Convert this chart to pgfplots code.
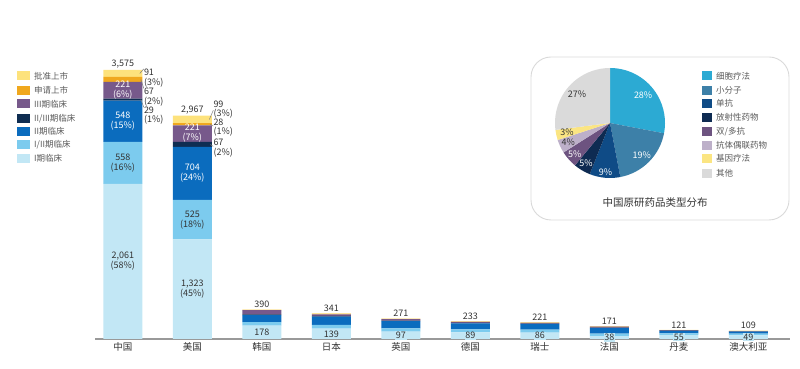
\documentclass[border=0pt]{standalone}
\usepackage{fontspec}
\setmainfont{Noto Sans CJK SC}
\usepackage{pgfplots}
\usepackage{pgfplotstable}
\pgfplotsset{compat=1.18}
\definecolor{cA}{HTML}{C2E7F5}
\definecolor{cAB}{HTML}{7CCBEE}
\definecolor{cB}{HTML}{0B6CBE}
\definecolor{cBC}{HTML}{0F2D52}
\definecolor{cC}{HTML}{77598B}
\definecolor{cSub}{HTML}{F0A81E}
\definecolor{cApp}{HTML}{FDE27C}
\definecolor{txt}{HTML}{333333}
\definecolor{lgtxt}{HTML}{595959}
\definecolor{p1}{HTML}{2CAAD3}
\definecolor{p2}{HTML}{3D80A8}
\definecolor{p3}{HTML}{0F4B86}
\definecolor{p4}{HTML}{0E2B52}
\definecolor{p5}{HTML}{6D5380}
\definecolor{p6}{HTML}{BDB0C9}
\definecolor{p7}{HTML}{FBE582}
\definecolor{p8}{HTML}{DADADA}
\pgfplotstableread{
x pA pAB pB pBC pC sub app
0 2061 558 548 29 221 67 91
1 1323 525 704 67 221 28 99
2 178 45 95 10 55 4 3
3 139 50 110 8 20 8 6
4 97 45 95 8 18 4 4
5 89 40 80 6 12 3 3
6 86 38 75 6 10 3 3
7 38 35 70 8 14 3 3
8 55 20 33 4 5 2 2
9 49 22 26 4 4 2 2
}\datatable
\tikzset{
  tot/.style={font=\fontsize{9}{10}\selectfont, text=txt, anchor=south, inner sep=1.5pt},
  inl/.style={font=\fontsize{9}{10}\selectfont, align=center, inner sep=0pt},
  sml/.style={font=\fontsize{9}{10}\selectfont, text=txt, fill=cA, inner sep=0.8pt},
  sid/.style={font=\fontsize{9}{9.5}\selectfont, text=txt, align=left, anchor=west, inner sep=0pt},
  pl/.style={font=\fontsize{9}{10}\selectfont, inner sep=0pt},
  lg/.style={font=\fontsize{8.5}{10}\selectfont, text=lgtxt, anchor=west, inner sep=0pt},
}
\pgfplotsset{baraxis/.style={
  at={(95pt,30pt)}, anchor=south west, scale only axis,
  width=695pt, height=269pt,
  xmin=-0.4, xmax=9.6, ymin=0, ymax=3575,
  clip=false}}
\begin{document}
\begin{tikzpicture}
\path[use as bounding box] (0,0) rectangle (800pt,369pt);
\begin{axis}[
  baraxis,
  ybar stacked, bar width=39pt,
  axis x line=bottom, hide y axis,
  axis line style={-, draw=gray!80, line width=1.1pt},
  xtick={0,1,2,3,4,5,6,7,8,9}, major tick length=0pt,
  xticklabels={中国,美国,韩国,日本,英国,德国,瑞士,法国,丹麦,澳大利亚},
  xticklabel style={font=\fontsize{9.5}{10}\selectfont, text=txt},
]
\addplot[fill=cA, draw=none] table[x=x,y=pA]{\datatable};
\addplot[fill=cAB, draw=none] table[x=x,y=pAB]{\datatable};
\addplot[fill=cB, draw=none] table[x=x,y=pB]{\datatable};
\addplot[fill=cBC, draw=none] table[x=x,y=pBC]{\datatable};
\addplot[fill=cC, draw=none] table[x=x,y=pC]{\datatable};
\addplot[fill=cSub, draw=none] table[x=x,y=sub]{\datatable};
\addplot[fill=cApp, draw=none] table[x=x,y=app]{\datatable};
\end{axis}
% overlay axis with the same geometry for the labels
\begin{axis}[baraxis, hide axis]
\addplot[draw=none, forget plot] coordinates {(0,0) (9,3575)};
\node[tot] at (axis cs:0,3575) {3,575};
\node[tot] at (axis cs:1,2967) {2,967};
\node[tot] at (axis cs:2,390) {390};
\node[tot] at (axis cs:3,341) {341};
\node[tot] at (axis cs:4,271) {271};
\node[tot] at (axis cs:5,233) {233};
\node[tot] at (axis cs:6,221) {221};
\node[tot] at (axis cs:7,171) {171};
\node[tot] at (axis cs:8,121) {121};
\node[tot] at (axis cs:9,109) {109};
\node[inl, text=txt] at (axis cs:0,1030) {2,061\\(58\%)};
\node[inl, text=txt] at (axis cs:0,2340) {558\\(16\%)};
\node[inl, text=white] at (axis cs:0,2893) {548\\(15\%)};
\node[inl, text=white] at (axis cs:0,3310) {221\\(6\%)};
\node[inl, text=txt] at (axis cs:1,661) {1,323\\(45\%)};
\node[inl, text=txt] at (axis cs:1,1585) {525\\(18\%)};
\node[inl, text=white] at (axis cs:1,2200) {704\\(24\%)};
\node[inl, text=white] at (axis cs:1,2730) {221\\(7\%)};
\node[sml] at (axis cs:2,85) {178};
\node[sml] at (axis cs:3,66) {139};
\node[sml] at (axis cs:4,48) {97};
\node[sml] at (axis cs:5,44) {89};
\node[sml] at (axis cs:6,43) {86};
\node[sml] at (axis cs:7,19) {38};
\node[sml] at (axis cs:8,27) {55};
\node[sml] at (axis cs:9,24) {49};
\node[sid, xshift=21pt] at (axis cs:0,3469) {91\\(3\%)};
\node[sid, xshift=21pt] at (axis cs:0,3216) {67\\(2\%)};
\node[sid, xshift=21pt] at (axis cs:0,2970) {29\\(1\%)};
\node[sid, xshift=21pt] at (axis cs:1,3050) {99\\(3\%)};
\node[sid, xshift=21pt] at (axis cs:1,2810) {28\\(1\%)};
\node[sid, xshift=21pt] at (axis cs:1,2540) {67\\(2\%)};
\draw[gray, line width=0.5pt] ([xshift=17pt]axis cs:0,3530) -- ([xshift=21pt]axis cs:0,3590);
\draw[gray, line width=0.5pt] ([xshift=18pt]axis cs:0,3450) -- ([xshift=21pt]axis cs:0,3330);
\draw[gray, line width=0.5pt] ([xshift=18pt]axis cs:0,3182) -- ([xshift=21pt]axis cs:0,3080);
\draw[gray, line width=0.5pt] ([xshift=17pt]axis cs:1,2917) -- ([xshift=21pt]axis cs:1,3040);
\draw[gray, line width=0.5pt] ([xshift=18pt]axis cs:1,2854) -- ([xshift=21pt]axis cs:1,2830);
\draw[gray, line width=0.5pt] ([xshift=18pt]axis cs:1,2585) -- ([xshift=21pt]axis cs:1,2560);
\end{axis}
\begin{axis}[
  at={(0pt,0pt)}, anchor=south west, scale only axis, hide axis,
  width=800pt, height=369pt,
  xmin=0, xmax=800, ymin=0, ymax=369, clip=false,
]
\addplot[draw=none, forget plot] coordinates {(0,0) (800,369)};
\draw[gray!30, line width=0.9pt, rounded corners=20pt] (axis cs:531,149) rectangle (axis cs:789,312);
\fill[p1] (axis cs:610,246) -- ++(90:55pt) arc[start angle=90, delta angle=-100.8, radius=55pt] -- cycle;
\fill[p2] (axis cs:610,246) -- ++(-10.8:55pt) arc[start angle=-10.8, delta angle=-68.4, radius=55pt] -- cycle;
\fill[p3] (axis cs:610,246) -- ++(-79.2:55pt) arc[start angle=-79.2, delta angle=-32.4, radius=55pt] -- cycle;
\fill[p4] (axis cs:610,246) -- ++(-111.6:55pt) arc[start angle=-111.6, delta angle=-18, radius=55pt] -- cycle;
\fill[p5] (axis cs:610,246) -- ++(-129.6:55pt) arc[start angle=-129.6, delta angle=-18, radius=55pt] -- cycle;
\fill[p6] (axis cs:610,246) -- ++(-147.6:55pt) arc[start angle=-147.6, delta angle=-14.4, radius=55pt] -- cycle;
\fill[p7] (axis cs:610,246) -- ++(-162:55pt) arc[start angle=-162, delta angle=-10.8, radius=55pt] -- cycle;
\fill[p8] (axis cs:610,246) -- ++(-172.8:55pt) arc[start angle=-172.8, delta angle=-97.2, radius=55pt] -- cycle;
\node[pl, text=white] at ([shift={(39.6:43pt)}]axis cs:610,246) {28\%};
\node[pl, text=white] at ([shift={(-45:45pt)}]axis cs:610,246) {19\%};
\node[pl, text=white] at ([shift={(-95.4:49pt)}]axis cs:610,246) {9\%};
\node[pl, text=white] at ([shift={(-120.6:47pt)}]axis cs:610,246) {5\%};
\node[pl, text=white] at ([shift={(-138.6:47pt)}]axis cs:610,246) {5\%};
\node[pl, text=txt] at ([shift={(-154.8:46pt)}]axis cs:610,246) {4\%};
\node[pl, text=txt] at ([shift={(-167.4:44pt)}]axis cs:610,246) {3\%};
\node[pl, text=txt] at ([shift={(-221.4:44pt)}]axis cs:610,246) {27\%};
\node[font=\fontsize{10.5}{12}\selectfont, text=txt] at (axis cs:655,166) {中国原研药品类型分布};
\fill[p1] (axis cs:702,288.5) rectangle (axis cs:712,297.5);
\node[lg] at (axis cs:716,293) {细胞疗法};
\fill[p2] (axis cs:702,273.8) rectangle (axis cs:712,282.8);
\node[lg] at (axis cs:716,278.3) {小分子};
\fill[p3] (axis cs:702,261.2) rectangle (axis cs:712,270.2);
\node[lg] at (axis cs:716,265.7) {单抗};
\fill[p4] (axis cs:702,247.2) rectangle (axis cs:712,256.2);
\node[lg] at (axis cs:716,251.7) {放射性药物};
\fill[p5] (axis cs:702,233.2) rectangle (axis cs:712,242.2);
\node[lg] at (axis cs:716,237.7) {双/多抗};
\fill[p6] (axis cs:702,219.2) rectangle (axis cs:712,228.2);
\node[lg] at (axis cs:716,223.7) {抗体偶联药物};
\fill[p7] (axis cs:702,205.8) rectangle (axis cs:712,214.8);
\node[lg] at (axis cs:716,210.3) {基因疗法};
\fill[p8] (axis cs:702,191.2) rectangle (axis cs:712,200.2);
\node[lg] at (axis cs:716,195.7) {其他};
\fill[cApp] (axis cs:17,288.5) rectangle (axis cs:30,297.5);
\node[lg] at (axis cs:34,293) {批准上市};
\fill[cSub] (axis cs:17,273.8) rectangle (axis cs:30,282.8);
\node[lg] at (axis cs:34,278.3) {申请上市};
\fill[cC] (axis cs:17,260.5) rectangle (axis cs:30,269.5);
\node[lg] at (axis cs:34,265) {III期临床};
\fill[cBC] (axis cs:17,246.2) rectangle (axis cs:30,255.2);
\node[lg] at (axis cs:34,250.7) {II/III期临床};
\fill[cB] (axis cs:17,232.8) rectangle (axis cs:30,241.8);
\node[lg] at (axis cs:34,237.3) {II期临床};
\fill[cAB] (axis cs:17,219.8) rectangle (axis cs:30,228.8);
\node[lg] at (axis cs:34,224.3) {I/II期临床};
\fill[cA] (axis cs:17,206.2) rectangle (axis cs:30,215.2);
\node[lg] at (axis cs:34,210.7) {I期临床};
\end{axis}
\end{tikzpicture}
\end{document}
